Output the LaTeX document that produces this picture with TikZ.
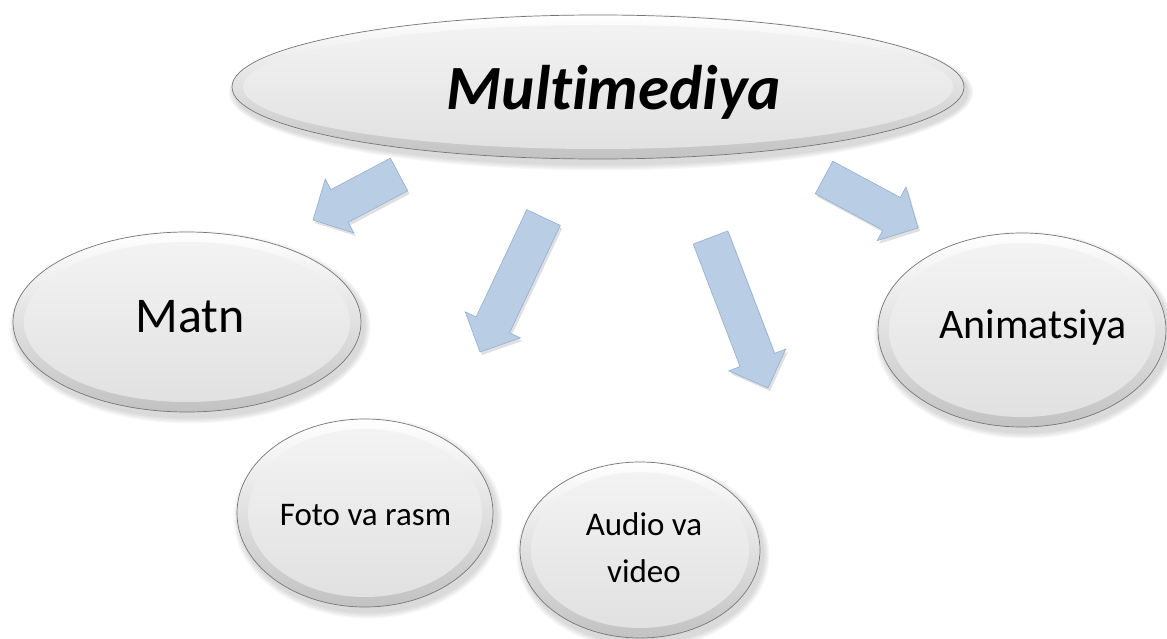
\documentclass[tikz,border=0pt]{standalone}
\usepackage{fontspec}
\setmainfont{Carlito}[RawFeature={-liga;-clig;-dlig}]
\usetikzlibrary{calc,shapes.geometric}
\definecolor{arrfill}{HTML}{B9CDE5}
\definecolor{arrline}{HTML}{93AFD4}
\definecolor{outertop}{HTML}{FFFFFF}
\definecolor{outerbot}{HTML}{C2C2C2}
\definecolor{innertop}{HTML}{F4F4F4}
\definecolor{innerbot}{HTML}{E0E0E0}
\definecolor{rimline}{HTML}{767676}

\tikzset{
  bubble/.style={ellipse, inner sep=0pt, draw=rimline, line width=0.7pt,
    top color=outertop, bottom color=outerbot},
  arrowbody/.style={fill=arrfill, draw=arrline, line width=0.6pt, line join=miter},
  arrowshadow/.style={fill=black, opacity=0.12},
  ellshadow/.style={fill=black, opacity=0.03},
  lbl/.style={anchor=base, text=black, inner sep=0pt},
}

% #1 name, #2 x, #3 y, #4 rx, #5 ry
\newcommand\glossybubble[5]{%
  \foreach \k in {1,...,5}{\fill[ellshadow] (#2+3,#3+5) ellipse [x radius={#4pt+\k*1.3pt}, y radius={#5pt+\k*1.3pt}];}
  \node[bubble, minimum width={2*#4pt}, minimum height={2*#5pt},
    path picture={\shade[top color=innertop, bottom color=innerbot]
      (path picture bounding box.center) ellipse [x radius={#4pt-11pt}, y radius={#5pt-10pt}];}]
    (#1) at (#2,#3) {};
}

% #1 tail coordinate name, #2 tip coordinate name
\newcommand\blockarrow[2]{%
  \coordinate (#1-hb) at ($(#2)!30pt!(#1)$);
  \foreach \st/\sh in {arrowshadow/{2pt,-3pt}, arrowbody/{0pt,0pt}}{
  \path[\st, transform canvas={shift={(\sh)}}]
    ($(#1)!18.5pt!90:(#2)$) -- ($(#1-hb)!18.5pt!90:(#2)$) -- ($(#1-hb)!30.5pt!90:(#2)$)
    -- (#2) -- ($(#1-hb)!30.5pt!-90:(#2)$) -- ($(#1-hb)!18.5pt!-90:(#2)$)
    -- ($(#1)!18.5pt!-90:(#2)$) -- cycle;}
}

\begin{document}
\begin{tikzpicture}[x=1pt,y=-1pt]
\useasboundingbox (0,0) rectangle (1167,639);

% bubbles
\glossybubble{mm}{598}{87}{366}{72}
\glossybubble{matn}{187}{322}{174}{90}
\glossybubble{foto}{365}{513}{128}{94}
\glossybubble{audio}{640}{550}{120}{88}
\glossybubble{anim}{1022}{330}{144}{97}

% labels
\node[lbl, font=\fontsize{63}{70}\selectfont\bfseries\itshape] (mmt) at (614,110) {Multimediya};
\node[lbl, font=\fontsize{50}{60}\selectfont] (matnt) at (190,332) {Matn};
\node[lbl, font=\fontsize{33}{40}\selectfont] (fotot) at (365.5,525) {Foto va rasm};
\node[lbl, font=\fontsize{33}{47}\selectfont, align=center] (audiot) at (644,582) {Audio va\\video};
\node[lbl, font=\fontsize{42}{50}\selectfont] (animt) at (1033,338) {Animatsiya};

% arrows
\coordinate (a1) at (399,174.5); \coordinate (a1e) at (313,220);
\coordinate (a2) at (543.5,217.5); \coordinate (a2e) at (480,352);
\coordinate (a3) at (710.5,237.5); \coordinate (a3e) at (768,388);
\coordinate (a4) at (824,177.5); \coordinate (a4e) at (918,228);
\blockarrow{a1}{a1e}
\blockarrow{a2}{a2e}
\blockarrow{a3}{a3e}
\blockarrow{a4}{a4e}
\end{tikzpicture}
\end{document}
